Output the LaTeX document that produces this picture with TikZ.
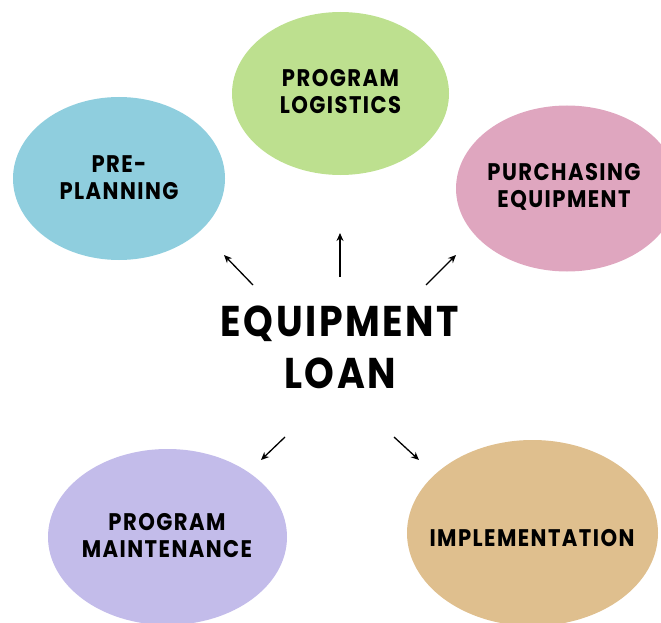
\documentclass[tikz,border=0pt]{standalone}
\usepackage{fontspec}
\usetikzlibrary{shapes.geometric,arrows.meta}
\newfontfamily\handfont{Poppins}[FakeStretch=0.88,LetterSpace=6]
\definecolor{prepblue}{HTML}{8FCEDE}
\definecolor{logigreen}{HTML}{BDE08F}
\definecolor{buypink}{HTML}{DFA6BF}
\definecolor{keeplilac}{HTML}{C3BCEA}
\definecolor{impltan}{HTML}{DFBF8E}
\begin{document}
\begin{tikzpicture}[x=1pt,y=-1pt,
		blob/.style args={#1/#2}{ellipse,draw=none,inner sep=0pt,minimum width=#1,minimum height=#2},
		caption/.style={align=center,inner sep=0pt,font=\handfont\bfseries\fontsize{24}{27}\selectfont},
		arr/.style={line width=1.3pt,-{Stealth[length=8pt,width=7pt]}}]
			\useasboundingbox (0,0) rectangle (661,623);
			\clip (0,0) rectangle (661,623);
			
			% the five parts
			\node[blob=212pt/163pt,fill=prepblue] (prep) at (119,178.5) {};
			\node[blob=217pt/163pt,fill=logigreen] (logi) at (340.5,93.5) {};
			\node[blob=222pt/166pt,fill=buypink] (buy) at (567,188.5) {};
			\node[blob=239pt/176pt,fill=keeplilac] (keep) at (167.5,537) {};
			\node[blob=251pt/186pt,fill=impltan] (impl) at (532.5,533) {};
			
			\node[caption] (prep-txt) at (119,178) {PRE-\\PLANNING};
			\node[caption] (logi-txt) at (340.5,92) {PROGRAM\\LOGISTICS};
			\node[caption] (buy-txt) at (564,187) {PURCHASING\\EQUIPMENT};
			\node[caption] (keep-txt) at (167,536) {PROGRAM\\MAINTENANCE};
			\node[caption] (impl-txt) at (532,538) {IMPLEMENTATION};
			
			% middle
			\node[align=center,inner sep=0pt,font=\handfont\bfseries\fontsize{43}{52}\selectfont] (loan) at (340,347) {EQUIPMENT\\LOAN};
			
			\foreach \s/\t/\u/\v/\n in {253/285/224/255/1, 340/277/340/233/2, 426/285/456/255/3, 285/437/261/460/4, 394/437/419/460/5}
			{
				\coordinate (s\n) at (\s,\t);
				\coordinate (e\n) at (\u,\v);
				\draw[arr] (s\n) -- (e\n);
			}
			
		\end{tikzpicture}
\end{document}
